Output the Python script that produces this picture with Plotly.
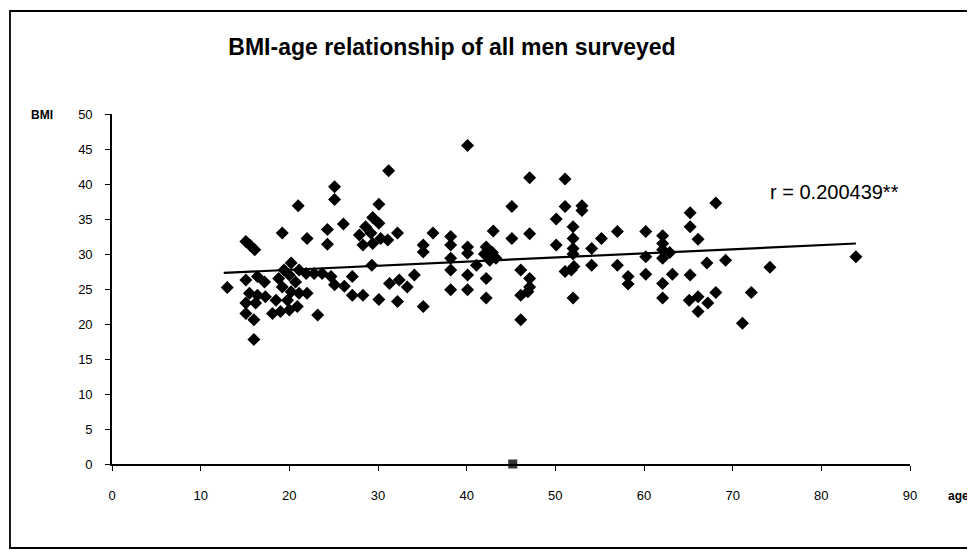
import plotly.graph_objects as go

# Scatter data (age, BMI)
age = [31.2, 25.1, 25.1, 21.0, 30.1, 26.1, 19.2, 24.3, 22.0, 24.3,
       15.1, 15.6, 16.1, 29.4, 28.6, 30.1, 27.9, 29.2, 30.3, 28.3,
       29.4, 31.1, 32.2, 29.3, 20.2, 13.0, 16.0, 23.2, 30.1, 32.2,
       34.1, 27.1, 28.3, 26.2, 25.1, 31.3, 32.4, 33.3, 27.1, 21.1,
       21.9, 22.8, 23.7, 24.7, 15.1, 16.4, 17.2, 15.5, 16.4, 15.1,
       16.2, 17.3, 15.1, 16.0, 18.1, 19.0, 20.0, 20.9, 18.8, 19.2,
       18.5, 19.8, 20.2, 21.1, 22.0, 20.7, 20.0, 19.4,
       40.1, 47.1, 51.1, 45.1, 51.1, 53.0, 53.0, 50.1, 36.2, 35.1,
       35.1, 38.2, 38.2, 38.2, 38.2, 38.2, 40.1, 40.1, 40.1, 40.1,
       41.1, 42.2, 42.0, 42.9, 43.3, 42.6, 43.0, 42.2, 42.2, 45.1,
       47.1, 46.1, 47.1, 47.1, 46.1, 46.9, 46.1, 50.1, 52.0, 52.0,
       52.0, 52.0, 51.1, 51.8, 52.1, 52.0, 54.1, 55.2, 54.1, 57.0,
       57.0, 35.1,
       58.2, 58.2, 60.2, 60.2, 60.2, 62.1, 62.1, 62.1, 62.1, 62.9,
       62.1, 62.1, 63.2, 65.2, 65.2, 66.1, 68.1, 65.2, 67.1, 69.2,
       65.1, 66.1, 67.2, 66.1, 68.1, 71.1, 72.1, 74.2, 83.9]
bmi = [41.9, 39.6, 37.8, 36.9, 37.1, 34.3, 33.0, 33.5, 32.2, 31.4,
       31.8, 31.2, 30.6, 35.2, 33.9, 34.4, 32.7, 33.0, 32.2, 31.3,
       31.5, 32.0, 33.0, 28.4, 28.7, 25.2, 17.8, 21.3, 23.5, 23.2,
       27.0, 24.1, 24.1, 25.4, 25.6, 25.8, 26.3, 25.3, 26.8, 27.7,
       27.2, 27.2, 27.2, 26.8, 26.3, 26.8, 26.0, 24.4, 24.1, 23.0,
       23.0, 23.9, 21.5, 20.6, 21.5, 21.8, 22.0, 22.5, 26.5, 25.3,
       23.4, 23.4, 24.6, 24.4, 24.4, 26.0, 27.0, 27.7,
       45.5, 40.9, 40.7, 36.8, 36.8, 36.9, 36.2, 35.0, 33.0, 31.3,
       30.3, 32.5, 31.3, 29.4, 27.7, 24.9, 31.0, 30.1, 27.0, 24.9,
       28.4, 31.0, 30.0, 30.2, 29.4, 29.1, 33.3, 26.5, 23.7, 32.2,
       32.9, 27.7, 26.5, 25.3, 24.1, 24.6, 20.6, 31.3, 33.9, 32.2,
       30.8, 30.0, 27.5, 27.7, 28.2, 23.7, 30.8, 32.2, 28.4, 33.2,
       28.4, 22.5,
       26.8, 25.7, 33.2, 29.6, 27.1, 32.6, 31.5, 30.6, 29.4, 30.2,
       25.8, 23.7, 27.1, 35.9, 33.9, 32.1, 37.3, 27.0, 28.7, 29.1,
       23.4, 23.9, 23.0, 21.8, 24.5, 20.1, 24.5, 28.1, 29.6]

# Trend line end points
trend_age = [12.6, 83.9]
trend_bmi = [27.3, 31.5]

# Stray square marker on the axis
extra_age = [45.2]
extra_bmi = [0]

x_ticks = [0, 10, 20, 30, 40, 50, 60, 70, 80, 90]
y_ticks = [0, 5, 10, 15, 20, 25, 30, 35, 40, 45, 50]

title_text = "BMI-age relationship of all men surveyed"
r_text = "r = 0.200439**"

# The page body has an 8px margin; size the figure so it ends at the window edge
OFF = 8
W, H = 975 - OFF, 560 - OFF
L, T = 112 - OFF, 114 - OFF
PW, PH = 798, 350
R, B = W - L - PW, H - T - PH

def px_x(p):  # page pixel -> paper x
    return (p - OFF - L) / PW

def px_y(p):  # page pixel -> paper y
    return (OFF + T + PH - p) / PH

fig = go.Figure()
fig.add_trace(go.Scatter(x=age, y=bmi, mode="markers",
                         marker=dict(symbol="diamond", size=10, color="#000000"),
                         cliponaxis=False, showlegend=False))
fig.add_trace(go.Scatter(x=trend_age, y=trend_bmi, mode="lines",
                         line=dict(color="#000000", width=2.2),
                         showlegend=False))
fig.add_trace(go.Scatter(x=extra_age, y=extra_bmi, mode="markers",
                         marker=dict(symbol="square", size=9, color="#333333"),
                         cliponaxis=False, showlegend=False))

tickfont = dict(family="Liberation Sans, Arial, sans-serif", size=13, color="#000000")

fig.update_layout(
    width=W, height=H,
    margin=dict(l=L, r=R, t=T, b=B),
    paper_bgcolor="white", plot_bgcolor="white",
    title=dict(text="<b>" + title_text + "</b>", x=(452 - OFF) / W, xanchor="center",
               y=1 - (47 - OFF) / H, yanchor="middle",
               font=dict(family="Liberation Sans, Arial, sans-serif",
                         size=23, color="#000000")),
    xaxis=dict(range=[0, 90], tickvals=x_ticks, showgrid=False, zeroline=False,
               showline=True, linecolor="#000000", linewidth=1.6,
               ticks="outside", ticklen=5, tickwidth=1.4, tickcolor="#000000",
               tickfont=tickfont, ticklabelstandoff=14),
    yaxis=dict(range=[0, 50], tickvals=y_ticks, showgrid=False, zeroline=False,
               showline=True, linecolor="#000000", linewidth=1.6,
               ticks="outside", ticklen=5, tickwidth=1.4, tickcolor="#000000",
               tickfont=tickfont, ticklabelstandoff=10),
    font=dict(family="Liberation Sans, Arial, sans-serif", color="#000000"),
)

fig.add_annotation(x=74.0, y=38.9, xref="x", yref="y", text=r_text,
                   showarrow=False, xanchor="left", yanchor="middle",
                   font=dict(family="Liberation Sans, Arial, sans-serif", size=20, color="#000000"))
fig.add_annotation(x=px_x(29), y=px_y(115), xref="paper", yref="paper", text="<b>BMI</b>",
                   showarrow=False, xanchor="left", yanchor="middle",
                   font=dict(family="Liberation Sans, Arial, sans-serif", size=12, color="#000000"))
fig.add_annotation(x=px_x(946), y=px_y(496), xref="paper", yref="paper", text="<b>age</b>",
                   showarrow=False, xanchor="left", yanchor="middle",
                   font=dict(family="Liberation Sans, Arial, sans-serif", size=12, color="#000000"))

# Outer frame
fig.add_shape(type="rect", xref="paper", yref="paper",
              x0=px_x(10), x1=px_x(990), y0=px_y(548), y1=px_y(11),
              line=dict(color="#000000", width=1.8), fillcolor="rgba(0,0,0,0)")

fig.write_html("out.html")
